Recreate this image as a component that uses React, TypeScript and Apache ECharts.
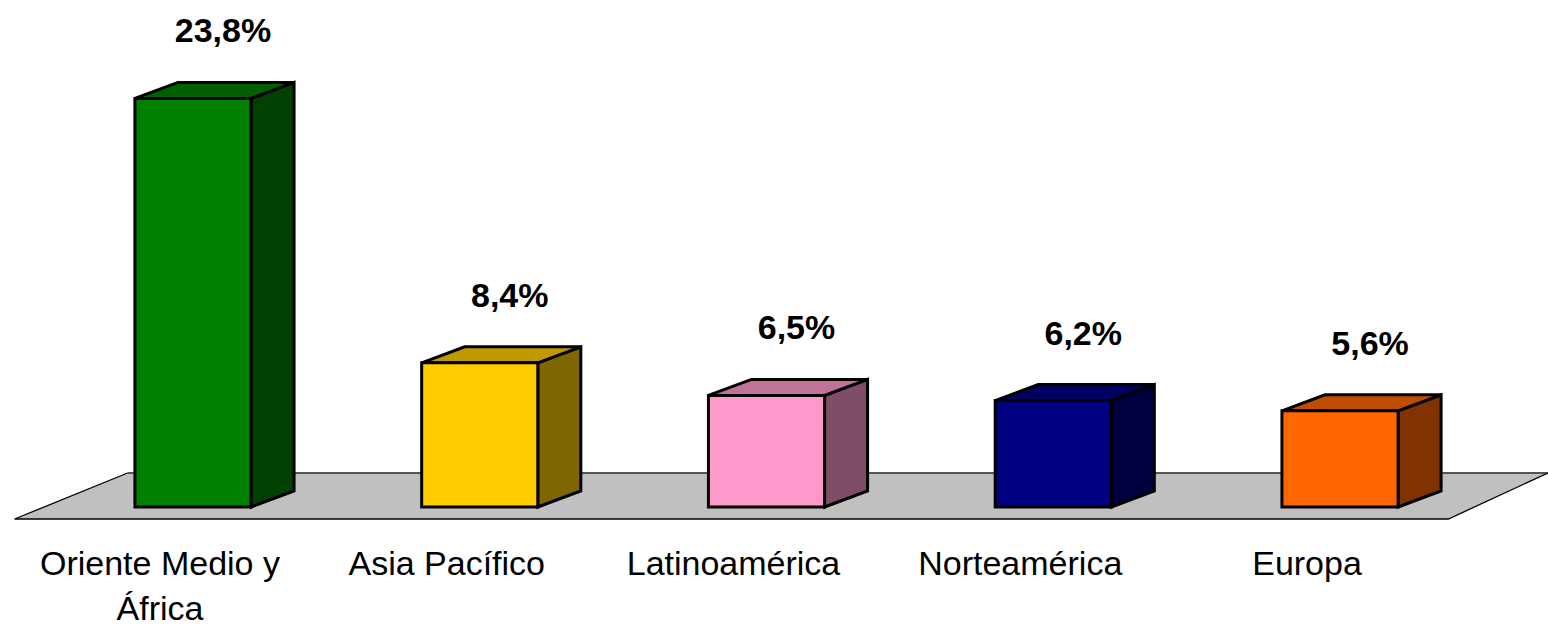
import React, { useEffect, useRef } from "react";
import * as echarts from "echarts";

const categories = [
  "Oriente Medio y\nÁfrica",
  "Asia Pacífico",
  "Latinoamérica",
  "Norteamérica",
  "Europa",
];
const values = [23.8, 8.4, 6.5, 6.2, 5.6];
const valueLabels = ["23,8%", "8,4%", "6,5%", "6,2%", "5,6%"];
const frontColors = ["#008000", "#FFCC00", "#FF99CC", "#000080", "#FF6600"];
const topColors = ["#006000", "#BF9900", "#BF7399", "#000060", "#BF4D00"];
const sideColors = ["#004000", "#806600", "#804D66", "#000040", "#803300"];

const FONT = '"Liberation Sans", Arial, Helvetica, sans-serif';

export default function App() {
  const ref = useRef<HTMLDivElement>(null);

  useEffect(() => {
    if (!ref.current) return;
    const chart = echarts.init(ref.current, undefined, { renderer: "svg" });
    const DX = 43;
    const DY = -16;

    const option: any = {
      animation: false,
      backgroundColor: "#ffffff",
      grid: { left: 49.6, right: 64.6, top: 26.3, bottom: 119 },
      xAxis: {
        type: "category",
        data: categories,
        axisLine: { show: false },
        axisTick: { show: false },
        splitLine: { show: false },
        axisLabel: {
          margin: 33,
          fontSize: 34,
          lineHeight: 45,
          color: "#000",
          fontFamily: FONT,
          interval: 0,
          padding: [0, 66, 0, 0],
        },
        z: 10,
      },
      yAxis: {
        type: "value",
        min: 0,
        max: 28,
        show: false,
      },
      series: [
        {
          type: "custom",
          z: 1,
          silent: true,
          data: [[0, 0]],
          renderItem: (params: any) => {
            const cs = params.coordSys;
            const yb = cs.y + cs.height;
            const fl = [cs.x - 35, yb + 12];
            const bl = [cs.x + 78, yb - 34];
            const br = [cs.x + cs.width + 64.5, yb - 34];
            const fr = [cs.x + cs.width - 35, yb + 12];
            return {
              type: "group",
              children: [
                {
                  type: "polygon",
                  shape: { points: [fl, bl, br, fr] },
                  style: { fill: "#C0C0C0", stroke: "none" },
                },
                {
                  type: "line",
                  shape: { x1: bl[0], y1: bl[1], x2: br[0], y2: br[1] },
                  style: { stroke: "#555555", lineWidth: 2 },
                },
                {
                  type: "polyline",
                  shape: { points: [bl, fl, fr, br] },
                  style: { stroke: "#000000", lineWidth: 1.3, fill: "none" },
                },
              ],
            };
          },
        },
        {
          type: "custom",
          z: 2,
          data: values.map((v, i) => [i, v]),
          renderItem: (params: any, api: any) => {
            const i = params.dataIndex;
            const base = api.coord([api.value(0), 0]);
            const top = api.coord([api.value(0), api.value(1)]);
            const bw = api.size([1, 0])[0] * 0.405;
            const x0 = base[0] - bw / 2;
            const x1 = base[0] + bw / 2;
            const yb = base[1];
            const yt = top[1];
            const stroke = { stroke: "#000000", lineWidth: 3, lineJoin: "miter" };
            return {
              type: "group",
              children: [
                {
                  type: "polygon",
                  shape: {
                    points: [
                      [x1, yt],
                      [x1 + DX, yt + DY],
                      [x1 + DX, yb + DY],
                      [x1, yb],
                    ],
                  },
                  style: { fill: sideColors[i], ...stroke },
                },
                {
                  type: "polygon",
                  shape: {
                    points: [
                      [x0, yt],
                      [x0 + DX, yt + DY],
                      [x1 + DX, yt + DY],
                      [x1, yt],
                    ],
                  },
                  style: { fill: topColors[i], ...stroke },
                },
                {
                  type: "rect",
                  shape: { x: x0, y: yt, width: bw, height: yb - yt },
                  style: { fill: frontColors[i], ...stroke },
                },
                {
                  type: "text",
                  x: base[0] + 30,
                  y: yt + DY - 52,
                  style: {
                    text: valueLabels[i],
                    fontSize: 34,
                    fontWeight: "bold",
                    fontFamily: FONT,
                    fill: "#000000",
                    align: "center",
                    verticalAlign: "middle",
                  },
                },
              ],
            };
          },
        },
      ],
    };

    chart.setOption(option);
    return () => {
      chart.dispose();
    };
  }, []);

  return (
    <div
      ref={ref}
      style={{ position: "absolute", left: 0, top: 0, width: 1548, height: 630 }}
    />
  );
}
